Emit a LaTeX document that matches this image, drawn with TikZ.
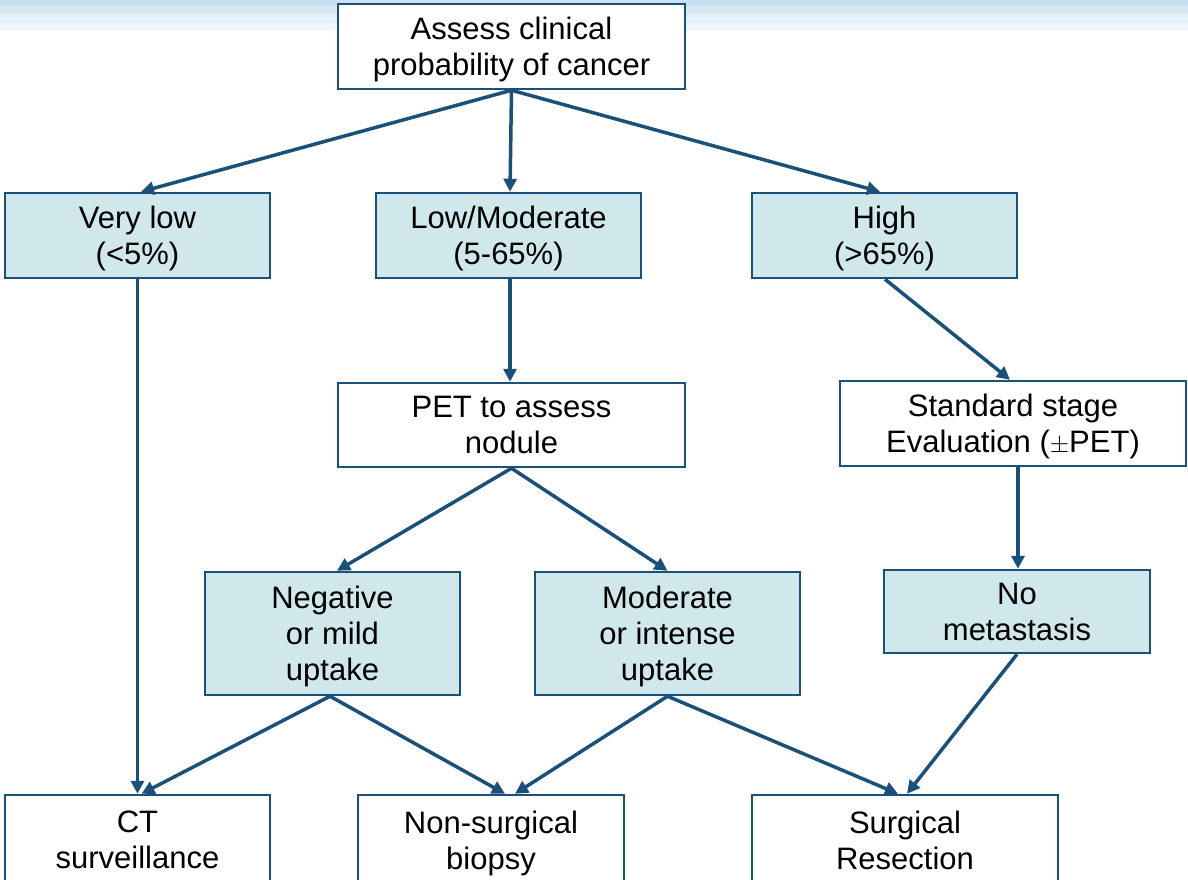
\documentclass[tikz,border=0pt]{standalone}
\usepackage{fontspec}
\setmainfont{Liberation Sans}
\usetikzlibrary{arrows.meta,positioning}
\definecolor{edgeblue}{HTML}{1B5079}
\definecolor{boxfill}{HTML}{D0E8EC}
\definecolor{bandA}{HTML}{CBE0EE}
\definecolor{bandB}{HTML}{D8E8F3}
\definecolor{bandC}{HTML}{E5F0F8}
\definecolor{bandD}{HTML}{F0F6FB}
\tikzset{
  whitebox/.style={draw=edgeblue, line width=2.5pt, fill=white, align=center, inner sep=0pt,
    font=\fontsize{31}{36}\selectfont, text depth=0pt},
  bluebox/.style={whitebox, fill=boxfill},
  conn/.style={draw=edgeblue, line width=3.5pt, -{Triangle[length=13pt,width=13pt]}}
}
\begin{document}
\begin{tikzpicture}[x=1pt,y=-1pt]
\useasboundingbox (0,0) rectangle (1188,880);
\clip (0,0) rectangle (1188,880);
% top bands
\fill[bandA] (0,0) rectangle (1188,6);
\fill[bandB] (0,6) rectangle (1188,14);
\fill[bandC] (0,14) rectangle (1188,23);
\fill[bandD] (0,23) rectangle (1188,31);

\node[whitebox, minimum width=347pt, minimum height=85pt] (assess) at (511.5,46.5) {Assess clinical\\probability of cancer};
\node[bluebox, minimum width=265pt, minimum height=85pt] (vlow) at (137.5,235.5) {Very low\\(<5\%)};
\node[bluebox, minimum width=265pt, minimum height=85pt] (lowmod) at (508.5,235.5) {Low/Moderate\\(5-65\%)};
\node[bluebox, minimum width=265pt, minimum height=85pt] (high) at (884.5,235.5) {High\\(>65\%)};
\node[whitebox, minimum width=347pt, minimum height=84pt] (pet) at (511.5,425) {PET to assess\\nodule};
\node[whitebox, minimum width=346pt, minimum height=85pt] (stage) at (1013,423.5) {Standard stage\\Evaluation ($\pm$PET)};
\node[bluebox, minimum width=255pt, minimum height=123pt] (neg) at (332.5,633.5) {Negative\\or mild\\uptake};
\node[bluebox, minimum width=265pt, minimum height=123pt] (modint) at (667.5,633.5) {Moderate\\or intense\\uptake};
\node[bluebox, minimum width=266pt, minimum height=83pt] (nomet) at (1017,611.5) {No\\metastasis};
\node[whitebox, minimum width=265pt, minimum height=90pt] (ct) at (137.5,840) {CT\\surveillance};
\node[whitebox, minimum width=266pt, minimum height=90pt] (nonsurg) at (491,840) {Non-surgical\\biopsy};
\node[whitebox, minimum width=306pt, minimum height=90pt] (surg) at (905,840) {Surgical\\Resection};

\draw[conn] (assess.south) -- ([xshift=3.5pt]vlow.north);
\draw[conn] (assess.south) -- ([xshift=1.5pt]lowmod.north);
\draw[conn] (assess.south) -- ([xshift=-4.5pt]high.north);
\draw[conn] (vlow.south) -- (ct.north);
\draw[conn] ([xshift=1.5pt]lowmod.south) -- ([xshift=-1.5pt]pet.north);
\draw[conn] ([xshift=0.5pt]high.south) -- ([xshift=-3pt]stage.north);
\draw[conn] (pet.south) -- ([xshift=4.5pt]neg.north);
\draw[conn] (pet.south) -- (modint.north);
\draw[conn] ([xshift=5pt]stage.south) -- ([xshift=1pt]nomet.north);
\draw[conn] ([xshift=-2.5pt]neg.south) -- ([xshift=4pt]ct.north);
\draw[conn] ([xshift=-2.5pt]neg.south) -- ([xshift=14pt]nonsurg.north);
\draw[conn] (modint.south) -- ([xshift=24pt]nonsurg.north);
\draw[conn] (modint.south) -- ([xshift=-7pt]surg.north);
\draw[conn] (nomet.south) -- ([xshift=2pt]surg.north);
\end{tikzpicture}
\end{document}
